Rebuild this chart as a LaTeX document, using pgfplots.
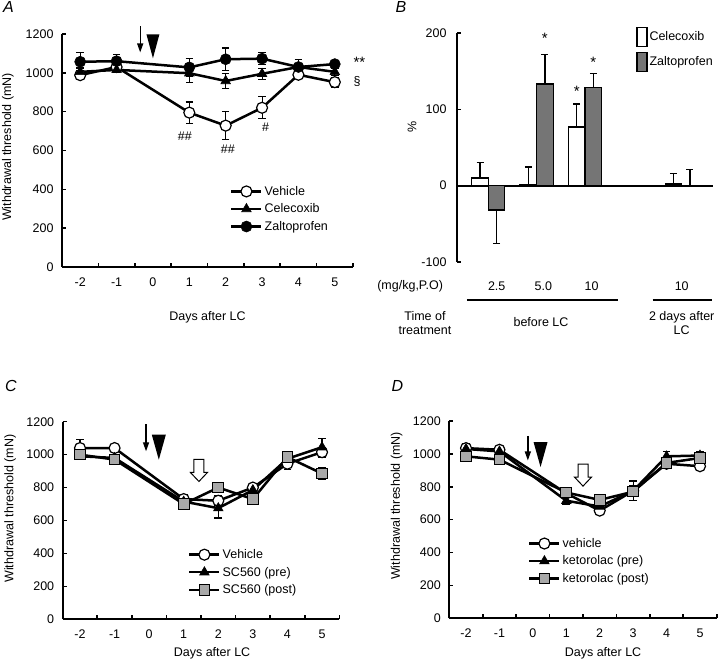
\documentclass[border=0pt]{standalone}
\usepackage{fontspec}
\setmainfont{Liberation Sans}
\usepackage{pgfplots}
\pgfplotsset{compat=1.18}
\usetikzlibrary{arrows.meta}

\definecolor{zaltoBar}{HTML}{757575}
\definecolor{sqGray}{HTML}{A8A8A8}

\newcommand{\figfont}{\fontsize{12.5}{14}\selectfont}

\pgfplotsset{
  days/.style={
    scale only axis, anchor=south west, clip=false,
    axis x line*=bottom, axis y line*=left,
    axis line style={line width=2pt},
    tick align=inside, major tick length=4pt,
    tick style={line width=1.6pt, black},
    xmin=-2.5, xmax=5.5, ymin=0, ymax=1200,
    xtick={-1.5,-0.5,...,5.5}, xticklabel=\empty,
    extra x ticks={-2,-1,0,1,2,3,4,5},
    extra x tick labels={-2,-1,0,1,2,3,4,5},
    extra x tick style={major tick length=0pt},
    ytick={0,200,...,1200},
    /pgf/number format/assume math mode=true,
    /pgf/number format/1000 sep={},
    ticklabel style={font=\figfont},
    xticklabel style={yshift=-7pt},
    yticklabel style={xshift=-5pt},
    label style={font=\figfont},
    xlabel={Days after LC},
    ylabel={Withdrawal threshold (mN)},
    every axis plot/.append style={line width=2.5pt, black},
    legend cell align=left,
    legend style={draw=none, fill=none, font=\figfont, row sep=3pt, anchor=north west},
    legend image code/.code={\draw[##1, mark repeat=2, mark phase=2]
        plot coordinates {(0pt,0pt) (15pt,0pt) (30pt,0pt)};},
  },
  eb/.style={error bars/y dir=both, error bars/y explicit,
    error bars/error bar style={line width=1.1pt},
    error bars/error mark options={rotate=90, mark size=3.8pt, line width=1.1pt}},
  barlegend/.style={legend image code/.code={\draw[##1] (0pt,-9.5pt) rectangle (10pt,9.5pt);}},
  openc/.style={mark=*, mark size=5.5pt, mark options={fill=white, draw=black, line width=1.2pt}},
  fillc/.style={mark=*, mark size=5.5pt, mark options={fill=black, line width=0.6pt}},
  tri/.style={mark=triangle*, mark size=5.5pt, mark options={fill=black, line width=0.6pt}},
  sq/.style={mark=square*, mark size=5.3pt, mark options={fill=sqGray, draw=black, line width=1pt}},
}
\tikzset{
  thinarrow/.style={line width=1.3pt, -{Triangle[width=6pt,length=9pt]}},
}

\begin{document}
\begin{tikzpicture}
\useasboundingbox (0pt,0pt) rectangle (720pt,661pt);

\node[font=\fontsize{16}{18}\selectfont\itshape] at (8.5pt,653.5pt) {A};
\node[font=\fontsize{16}{18}\selectfont\itshape] at (401pt,653.5pt) {B};
\node[font=\fontsize{16}{18}\selectfont\itshape] at (11pt,275pt) {C};
\node[font=\fontsize{16}{18}\selectfont\itshape] at (397.5pt,275pt) {D};

% ---------- A ----------
\begin{axis}[days, at={(62pt,394pt)}, width=291pt, height=233pt,
  ylabel style={at={(axis description cs:-0.186,0.515)}, anchor=center},
  xlabel style={at={(axis description cs:0.5,-0.215)}, anchor=center},
  legend style={at={(0.567,0.365)}}]
\addplot[openc, eb] coordinates {(-2,988) +- (0,22) (-1,1030) +- (0,20) (1,795) +- (0,55) (2,728) +- (0,72) (3,820) +- (0,57) (4,990) +- (0,20) (5,952) +- (0,25)};
\addlegendentry{Vehicle}
\addplot[tri, eb] coordinates {(-2,1005) +- (0,20) (-1,1015) +- (0,15) (1,998) +- (0,50) (2,958) +- (0,40) (3,995) +- (0,28) (4,1030) +- (0,15) (5,1005) +- (0,20)};
\addlegendentry{Celecoxib}
\addplot[fillc, eb] coordinates {(-2,1057) +- (0,48) (-1,1060) +- (0,35) (1,1028) +- (0,47) (2,1070) +- (0,58) (3,1073) +- (0,32) (4,1030) +- (0,40) (5,1045) +- (0,15)};
\addlegendentry{Zaltoprofen}
\node[font=\fontsize{15}{16}\selectfont, anchor=west] at (axis cs:5.42,1056) {**};
\node[font=\figfont, anchor=west] at (axis cs:5.42,954) {§};
\node[font=\figfont] at (axis cs:0.88,672) {\#\#};
\node[font=\figfont] at (axis cs:2.06,608) {\#\#};
\node[font=\figfont] at (axis cs:3.1,719) {\#};
\draw[thinarrow] (axis cs:-0.35,1240) -- (axis cs:-0.35,1105);
\fill (axis cs:0,1075) -- ++(6.5pt,24pt) -- ++(-13pt,0pt) -- cycle;
\end{axis}

% ---------- B ----------
\begin{axis}[at={(457pt,399pt)}, anchor=south west, scale only axis,
  width=256pt, height=229pt, clip=false,
  xmin=0.353, xmax=5.647, ymin=-100, ymax=200,
  axis x line*=middle, axis y line*=left,
  axis line style={line width=2pt},
  tick align=inside, major tick length=4pt, tick style={line width=1.6pt, black},
  xtick=\empty, ytick={-100,0,100,200}, yticklabels={-100,0,100,200},
  ticklabel style={font=\figfont}, yticklabel style={xshift=-7pt},
  ylabel={\%}, label style={font=\figfont},
  ylabel style={at={(axis description cs:-0.176,0.59)}, anchor=center},
  ybar, bar width=16.5pt,
  legend cell align=left,
  legend style={draw=none, fill=none, font=\figfont, row sep=5pt,
    at={(0.6875,1.037)}, anchor=north west},
]
\addplot[fill=white, draw=black, line width=1.3pt, bar shift=-8.25pt, barlegend,
  error bars/y dir=plus, error bars/y explicit,
  error bars/error bar style={line width=1.3pt},
  error bars/error mark options={rotate=90, mark size=3.5pt, line width=1.3pt}]
  coordinates {(1,10) +- (0,20) (2,1.5) +- (0,23) (3,77) +- (0,30) (5,2) +- (0,14)};
\addlegendentry{Celecoxib}
\addplot[fill=zaltoBar, draw=black, line width=1.3pt, bar shift=8.25pt, barlegend,
  error bars/y dir=both, error bars/y explicit,
  error bars/error bar style={line width=1.3pt},
  error bars/error mark options={rotate=90, mark size=3.5pt, line width=1.3pt}]
  coordinates {(1,-32) += (0,0) -= (0,44) (2,133) += (0,39) -= (0,0) (3,129) += (0,18) -= (0,0) (5,-1.5) += (0,23) -= (0,0)};
\addlegendentry{Zaltoprofen}
\node[font=\fontsize{15}{16}\selectfont] at (axis cs:2.17,193) {*};
\node[font=\fontsize{15}{16}\selectfont] at (axis cs:3.17,161) {*};
\node[font=\fontsize{15}{16}\selectfont] at (axis cs:2.83,123) {*};
\node[font=\figfont] at (axis cs:-0.615,-132) {(mg/kg,P.O)};
\node[font=\figfont] at (axis cs:1.174,-132) {2.5};
\node[font=\figfont] at (axis cs:2.137,-132) {5.0};
\node[font=\figfont] at (axis cs:3.135,-132) {10};
\node[font=\figfont] at (axis cs:5.0,-132) {10};
\draw[line width=2pt] (axis cs:0.556,-150) -- (axis cs:3.683,-150);
\draw[line width=2pt] (axis cs:4.40,-150) -- (axis cs:5.62,-150);
\node[font=\figfont, align=center] at (axis cs:-0.31,-180) {Time of\\treatment};
\node[font=\figfont] at (axis cs:2.09,-178) {before LC};
\node[font=\figfont, align=center] at (axis cs:5.0,-180) {2 days after\\LC};
\end{axis}

% ---------- C ----------
\begin{axis}[days, at={(62.7pt,41.7pt)}, width=276.6pt, height=197.6pt,
  ylabel style={at={(axis description cs:-0.19,0.56)}, anchor=center},
  xlabel style={at={(axis description cs:0.54,-0.172)}, anchor=center},
  legend style={at={(0.442,0.375)}}]
\addplot[openc, eb] coordinates {(-2,1040) +- (0,50) (-1,1040) +- (0,15) (1,730) +- (0,25) (2,720) +- (0,30) (3,800) +- (0,25) (4,945) +- (0,35) (5,1015) +- (0,30)};
\addlegendentry{Vehicle}
\addplot[tri, eb] coordinates {(-2,990) +- (0,20) (-1,980) +- (0,20) (1,715) +- (0,25) (2,675) +- (0,60) (3,785) +- (0,25) (4,975) +- (0,25) (5,1045) +- (0,55)};
\addlegendentry{SC560 (pre)}
\addplot[sq, eb] coordinates {(-2,1000) +- (0,25) (-1,970) +- (0,20) (1,700) +- (0,30) (2,800) +- (0,20) (3,730) +- (0,25) (4,985) +- (0,25) (5,885) +- (0,35)};
\addlegendentry{SC560 (post)}
\draw[thinarrow] (axis cs:-0.09,1184) -- (axis cs:-0.09,1020);
\fill (axis cs:0.28,969) -- ++(7pt,25pt) -- ++(-14pt,0pt) -- cycle;
\draw[line width=1pt, fill=white] (axis cs:1.44,837) -- ++(8.5pt,9pt) -- ++(-3.5pt,0pt) -- ++(0pt,13pt) -- ++(-10pt,0pt) -- ++(0pt,-13pt) -- ++(-3.5pt,0pt) -- cycle;
\end{axis}

% ---------- D ----------
\begin{axis}[days, at={(449.3pt,42.7pt)}, width=267.4pt, height=197.3pt,
  ylabel style={at={(axis description cs:-0.197,0.57)}, anchor=center},
  xlabel style={at={(axis description cs:0.575,-0.177)}, anchor=center},
  legend style={at={(0.283,0.427)}}]
\addplot[openc, eb] coordinates {(-2,1035) +- (0,25) (-1,1025) +- (0,20) (1,760) +- (0,20) (2,655) +- (0,20) (3,775) +- (0,60) (4,940) +- (0,25) (5,925) +- (0,20)};
\addlegendentry{vehicle}
\addplot[tri, eb] coordinates {(-2,1030) +- (0,30) (-1,1015) +- (0,20) (1,715) +- (0,20) (2,680) +- (0,20) (3,775) +- (0,30) (4,985) +- (0,30) (5,990) +- (0,25)};
\addlegendentry{ketorolac (pre)}
\addplot[sq, eb] coordinates {(-2,985) +- (0,25) (-1,965) +- (0,20) (1,765) +- (0,20) (2,720) +- (0,20) (3,770) +- (0,20) (4,945) +- (0,25) (5,975) +- (0,20)};
\addlegendentry{ketorolac (post)}
\draw[thinarrow] (axis cs:-0.15,1110) -- (axis cs:-0.15,960);
\fill (axis cs:0.23,920) -- ++(7pt,25pt) -- ++(-14pt,0pt) -- cycle;
\draw[line width=1pt, fill=white] (axis cs:1.5,804) -- ++(8.5pt,9pt) -- ++(-3.5pt,0pt) -- ++(0pt,13pt) -- ++(-10pt,0pt) -- ++(0pt,-13pt) -- ++(-3.5pt,0pt) -- cycle;
\end{axis}
\end{tikzpicture}
\end{document}
